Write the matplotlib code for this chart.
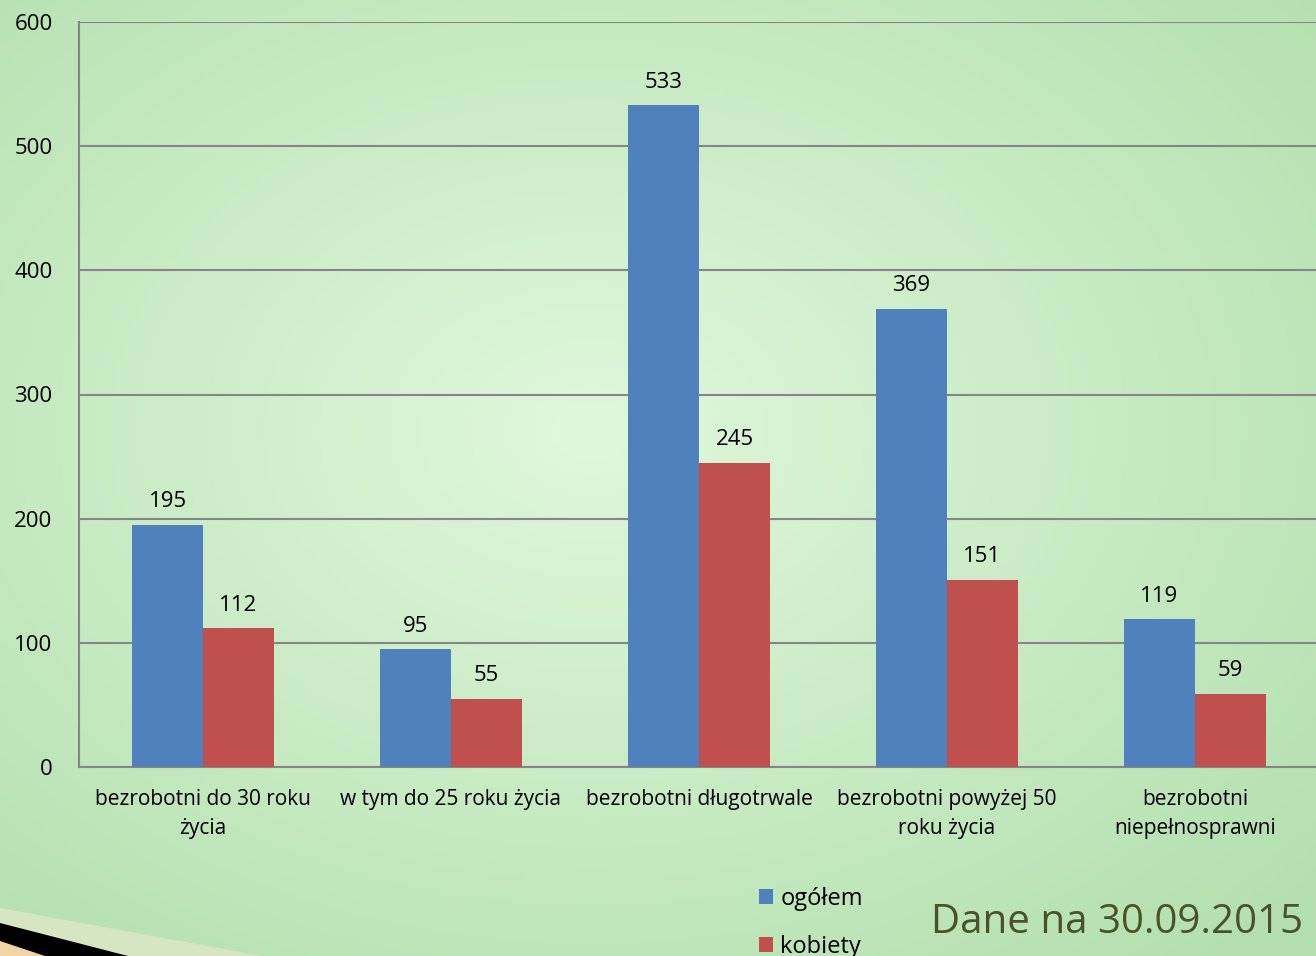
import numpy as np
import matplotlib.pyplot as plt
from matplotlib.patches import Polygon

categories = ["bezrobotni do 30 roku\nżycia", "w tym do 25 roku życia",
              "bezrobotni długotrwale", "bezrobotni powyżej 50\nroku życia",
              "bezrobotni\nniepełnosprawni"]
ogolem = [195, 95, 533, 369, 119]
kobiety = [112, 55, 245, 151, 59]
series_names = ["ogółem", "kobiety"]
yticks = [0, 100, 200, 300, 400, 500, 600]

plt.rcParams['font.family'] = ['Open Sans', 'DejaVu Sans']

fig = plt.figure(figsize=(13.16, 9.56), dpi=100)

# background gradient (light in middle, darker green towards edges)
bg = fig.add_axes([0, 0, 1, 1], zorder=-10)
yy, xx = np.mgrid[0:1:300j, 0:1:400j]
d = np.sqrt(((xx - 0.45) / 0.75) ** 2 + ((yy - 0.55) / 0.75) ** 2)
d = np.clip(d, 0, 1)
c_in = np.array([0xe0, 0xf7, 0xdc]) / 255
c_out = np.array([0xb2, 0xdf, 0xad]) / 255
img = c_in[None, None, :] * (1 - d[..., None]) + c_out[None, None, :] * d[..., None]
bg.imshow(img, extent=[0, 1, 0, 1], aspect='auto', origin='lower')
bg.set_xlim(0, 1)
bg.set_ylim(0, 1)
bg.axis('off')

# decorative swoosh bottom-left
H = 956.0
W = 1316.0
def fc(x, y):
    return (x / W, 1 - y / H)
bg.add_patch(Polygon([fc(0, 908), fc(262, 956), fc(0, 956)], closed=True,
                     facecolor='#d6e5c2', edgecolor='none'))
bg.add_patch(Polygon([fc(0, 923), fc(128, 956), fc(0, 956)], closed=True,
                     facecolor='black', edgecolor='none'))
bg.add_patch(Polygon([fc(0, 941), fc(45, 956), fc(0, 956)], closed=True,
                     facecolor='#f1d4a6', edgecolor='none'))

ax = fig.add_axes([79 / W, (H - 767) / H, 1240 / W, 745 / H])
ax.patch.set_alpha(0)

x = np.arange(len(categories))
w = 0.286
b1 = ax.bar(x - w / 2, ogolem, w, color='#4f81bd', label=series_names[0], zorder=3)
b2 = ax.bar(x + w / 2, kobiety, w, color='#c0504d', label=series_names[1], zorder=3)

for bars in (b1, b2):
    for r in bars:
        ax.text(r.get_x() + r.get_width() / 2, r.get_height() + 10,
                str(int(r.get_height())), ha='center', va='bottom', fontsize=16)

ax.set_xlim(-0.5, len(categories) - 0.5)
ax.set_ylim(0, 600)
ax.set_yticks(yticks)
ax.set_yticklabels([str(t) for t in yticks], fontsize=16)
ax.yaxis.grid(True, color='#868686', linewidth=1.5, zorder=0)
ax.set_xticks(x)
ax.set_xticklabels(categories, fontsize=15, linespacing=1.5)
ax.tick_params(axis='y', length=0, pad=19)
ax.tick_params(axis='x', length=0, pad=16)
for s in ['top', 'right']:
    ax.spines[s].set_visible(False)
for s in ['left', 'bottom']:
    ax.spines[s].set_color('#868686')
    ax.spines[s].set_linewidth(1.5)

# legend
leg = fig.legend(handles=[b1, b2], labels=series_names, loc='upper left',
                 bbox_to_anchor=(738 / W, 1 - 866 / H), frameon=False,
                 fontsize=17, handlelength=0.6, handleheight=0.6,
                 handletextpad=0.3, labelspacing=1.0)

fig.text(1303 / W, 1 - 923 / H, "Dane na 30.09.2015", ha='right', va='center',
         fontsize=29, color='#4a5229')

fig.savefig("out.png", dpi=100)
